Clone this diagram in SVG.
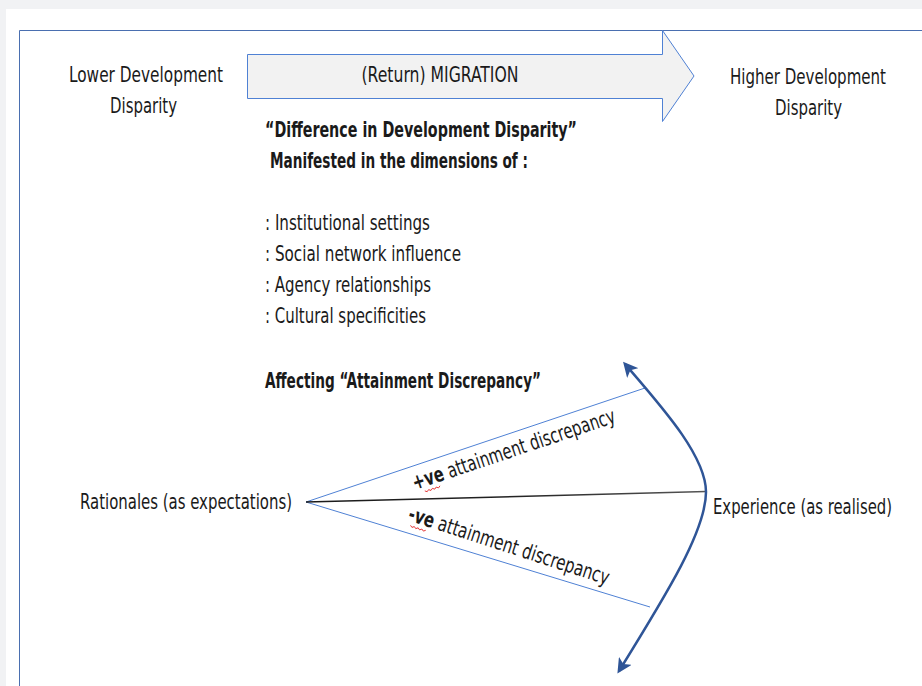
<svg xmlns="http://www.w3.org/2000/svg" width="922" height="686" viewBox="0 0 922 686">
<defs>
<style>
text{font-family:"DejaVu Sans Condensed","Liberation Sans",Arial,sans-serif;font-size:21px;fill:#1a1a1a}
.b{font-weight:bold}
.mid{text-anchor:middle}
.frame{fill:none;stroke:#4a6fb0;stroke-width:1}
.thin{fill:none;stroke:#4f81d4;stroke-width:1}
.sq{fill:none;stroke:#e02020;stroke-width:0.8}
</style>
<marker id="ah" viewBox="0 0 10 10" refX="8" refY="5" markerWidth="6" markerHeight="6" orient="auto-start-reverse" markerUnits="strokeWidth">
<path d="M0,0 L10,5 L0,10 L2.5,5 Z" fill="#2f5597"/>
</marker>
<linearGradient id="lg" x1="0" y1="0" x2="1" y2="0">
<stop offset="0" stop-color="#1a1a1a"/>
<stop offset="0.5" stop-color="#222"/>
<stop offset="1" stop-color="#555"/>
</linearGradient>
</defs>
<rect x="0" y="0" width="922" height="686" fill="#f1f2f4"/>
<rect x="6" y="9" width="916" height="677" fill="#ffffff"/>
<path class="frame" d="M19.5,686 V30.5 H922"/>

<g id="migration-arrow">
<path d="M247.5,54.5 H662.5 V30.5 L694,76 L662.5,121.5 V98.5 H247.5 Z" fill="#f2f2f2" stroke="#4f81d4" stroke-width="1"/>
<text x="440" y="82" class="mid" textLength="157" lengthAdjust="spacingAndGlyphs">(Return) MIGRATION</text>
</g>

<g id="lower">
<text x="146" y="82" class="mid" textLength="154" lengthAdjust="spacingAndGlyphs">Lower Development</text>
<text x="143.5" y="113" class="mid" textLength="67" lengthAdjust="spacingAndGlyphs">Disparity</text>
</g>

<g id="higher">
<text x="808" y="84" class="mid" textLength="156" lengthAdjust="spacingAndGlyphs">Higher Development</text>
<text x="808.5" y="115" class="mid" textLength="67" lengthAdjust="spacingAndGlyphs">Disparity</text>
</g>

<g id="dimensions">
<text x="265" y="137" class="b" textLength="312" lengthAdjust="spacingAndGlyphs">“Difference in Development Disparity”</text>
<text x="270" y="168" class="b" textLength="258" lengthAdjust="spacingAndGlyphs">Manifested in the dimensions of :</text>
<text x="265" y="230" textLength="165" lengthAdjust="spacingAndGlyphs">: Institutional settings</text>
<text x="265" y="261" textLength="196" lengthAdjust="spacingAndGlyphs">: Social network influence</text>
<text x="265" y="292" textLength="166" lengthAdjust="spacingAndGlyphs">: Agency relationships</text>
<text x="265" y="323" textLength="161" lengthAdjust="spacingAndGlyphs">: Cultural specificities</text>
<text x="265" y="388" class="b" textLength="276" lengthAdjust="spacingAndGlyphs">Affecting “Attainment Discrepancy”</text>
</g>

<g id="rationales">
<text x="80" y="509" textLength="212" lengthAdjust="spacingAndGlyphs">Rationales (as expectations)</text>
</g>

<g id="experience">
<text x="713" y="514" textLength="179" lengthAdjust="spacingAndGlyphs">Experience (as realised)</text>
</g>

<g id="connectors">
<line class="thin" x1="306" y1="502" x2="645" y2="388"/>
<line class="thin" x1="306" y1="502" x2="650" y2="607"/>
<line x1="306" y1="502" x2="706" y2="491.5" stroke="url(#lg)" stroke-width="1.5"/>
<path d="M625,364 C662,407 706,456 706,492 C706,530 668,592 619,671" fill="none" stroke="#2f5597" stroke-width="2.5" marker-start="url(#ah)" marker-end="url(#ah)"/>
</g>

<g id="pos-label" transform="translate(415,490) rotate(-18.6)">
<text x="0" y="0" textLength="213" lengthAdjust="spacingAndGlyphs"><tspan class="b">+ve</tspan> attainment discrepancy</text>
<path class="sq" d="M9,4 l2,1.5 l2,-1.5 l2,1.5 l2,-1.5 l2,1.5 l2,-1.5 l2,1.5 l2,-1.5"/>
</g>

<g id="neg-label" transform="translate(407,520) rotate(18)">
<text x="0" y="0" textLength="210" lengthAdjust="spacingAndGlyphs"><tspan class="b">-ve</tspan> attainment discrepancy</text>
<path class="sq" d="M5,4 l2,1.5 l2,-1.5 l2,1.5 l2,-1.5 l2,1.5 l2,-1.5 l2,1.5 l2,-1.5"/>
</g>
</svg>
